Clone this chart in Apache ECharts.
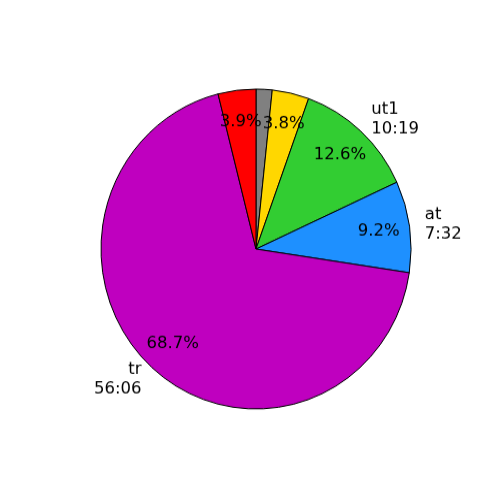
<!DOCTYPE html>
<html><head><meta charset="utf-8">
<script src="https://cdn.jsdelivr.net/npm/echarts@6/dist/echarts.min.js"></script>
<style>
html,body{margin:0;padding:0;background:#fff;overflow:hidden}
#c{width:500px;height:500px;transform:scaleY(1.032);transform-origin:0 249px}
</style>
</head><body><div id="c"></div>
<script>
// Slices in clockwise order from the top (seconds)
const names = ['', '', 'ut1\n10:19', 'at\n7:32', 'tr\n56:06', ''];
const values = [82, 188, 619, 452, 3366, 193];
const colors = ['#808080', '#FFD700', '#32CD32', '#1E90FF', '#BF00BF', '#FF0000'];
const showPct = [false, true, true, true, true, true];

const total = values.reduce((a, b) => a + b, 0);
const R = 155;
const font = 'DejaVu Sans';

const chart = echarts.init(document.getElementById('c'), null, {renderer: 'canvas'});
chart.setOption({
  animation: false,
  backgroundColor: '#fff',
  series: [
    {
      type: 'pie', center: [256, 249], radius: [0, R],
      startAngle: 90, clockwise: true, silent: true,
      avoidLabelOverlap: false,
      itemStyle: {borderColor: '#000', borderWidth: 1},
      label: {
        show: true, position: 'outside', formatter: '{b}',
        fontFamily: font, fontSize: 16.5, color: '#000', lineHeight: 19.5,
        distanceToLabelLine: 0
      },
      labelLine: {show: false, length: 15.5, length2: 0},
      data: values.map((v, i) => ({
        value: v, name: names[i],
        itemStyle: {color: colors[i]},
        label: {show: names[i] !== ''}
      }))
    },
    {
      type: 'pie', center: [256, 249], radius: [R * 0.6 - 6, R],
      startAngle: 90, clockwise: true, silent: true,
      avoidLabelOverlap: false,
      itemStyle: {color: 'rgba(0,0,0,0)', borderWidth: 0},
      label: {
        show: true, position: 'inside',
        fontFamily: font, fontSize: 16.5, color: '#000',
        formatter: p => (p.value / total * 100).toFixed(1) + '%'
      },
      labelLine: {show: false},
      data: values.map((v, i) => ({
        value: v, name: 'p' + i,
        label: {show: showPct[i]}
      }))
    }
  ]
});
</script>
</body></html>
